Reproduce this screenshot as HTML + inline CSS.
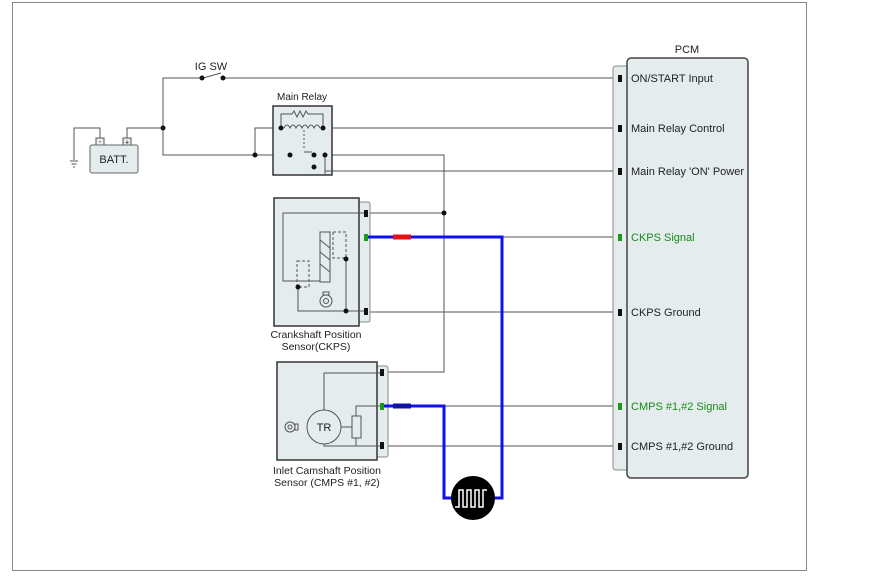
<!DOCTYPE html>
<html><head><meta charset="utf-8"><style>
body{margin:0;background:#fff}
svg{display:block;font-family:"Liberation Sans",sans-serif}
</style></head><body>
<svg width="886" height="582" viewBox="0 0 886 582" xmlns="http://www.w3.org/2000/svg">
<rect x="12.5" y="2.5" width="794" height="568" fill="#fff" stroke="#888" stroke-width="1"/>
<g fill="none" stroke="#555" stroke-width="1">
<!-- IG SW line -->
<polyline points="163,128 163,78 202,78"/>
<line x1="203" y1="78" x2="221" y2="73"/>
<line x1="223" y1="78" x2="613" y2="78"/>
<!-- battery wires -->
<polyline points="100,139 100,128 74,128 74,160"/>
<polyline points="127,139 127,128 163,128 163,155 325,155 444,155 444,372 382,372"/>
<polyline points="255,155 255,128 281,128"/>
<line x1="323" y1="128" x2="613" y2="128"/>
<polyline points="325,155 325,171 613,171"/>
<line x1="367" y1="213" x2="444" y2="213"/>
<line x1="502" y1="237" x2="613" y2="237"/>
<line x1="367" y1="312" x2="613" y2="312"/>
<line x1="444" y1="406" x2="613" y2="406"/>
<line x1="382" y1="446" x2="613" y2="446"/>
</g>
<!-- ground -->
<g stroke="#555"><line x1="70" y1="161" x2="78" y2="161"/><line x1="71.5" y1="164" x2="76.5" y2="164"/><line x1="73" y1="167" x2="75" y2="167"/></g>
<!-- battery -->
<rect x="96" y="138" width="8" height="7" fill="#e8eef0" stroke="#555"/>
<rect x="123" y="138" width="8" height="7" fill="#e8eef0" stroke="#555"/>
<text x="100" y="144" font-size="7" text-anchor="middle">-</text>
<text x="127" y="144.5" font-size="7" text-anchor="middle">+</text>
<rect x="90" y="145" width="48" height="28" rx="2" fill="#e4ecee" stroke="#666"/>
<text x="114" y="163" font-size="11" text-anchor="middle" fill="#222">BATT.</text>
<text x="211" y="70" font-size="11" text-anchor="middle" fill="#222">IG SW</text>
<!-- main relay -->
<text x="302" y="100" font-size="10" text-anchor="middle" fill="#222">Main Relay</text>
<rect x="273" y="106" width="59" height="69" fill="#e4ecee" stroke="#333" stroke-width="1.5"/>
<g fill="none" stroke="#555">
<polyline points="281,128 281,114 292,114 294,111 297,117 300,111 303,117 306,111 308,114 323,114 323,128"/>
<path d="M284,128 q3,-6 6,0 q3,-6 6,0 q3,-6 6,0 q3,-6 6,0 q3,-6 6,0 q3,-6 6,0"/>
<line x1="304" y1="130" x2="304" y2="150" stroke-dasharray="2,2"/>
<line x1="304" y1="152" x2="312" y2="152"/>
<polyline points="325,155 325,175"/>
</g>
<line x1="332" y1="171" x2="325" y2="171" stroke="#555"/>
<!-- CKPS -->
<rect x="359" y="202" width="11" height="120" rx="2" fill="#e4ecee" stroke="#888"/>
<rect x="274" y="198" width="85" height="128" fill="#e4ecee" stroke="#333" stroke-width="1.5"/>
<g fill="none" stroke="#555">
<polyline points="367,213 283,213 283,281 320,281"/>
<rect x="320" y="232" width="10" height="50"/>
<path d="M320,240 L330,248 M320,252 L330,260 M320,264 L330,272"/>
<polyline points="333,232 346,232 346,259" stroke-dasharray="3,2"/>
<polyline points="333,232 333,258 346,258" stroke-dasharray="3,2"/>
<rect x="297" y="261" width="12" height="26" stroke-dasharray="3,2"/>
<polyline points="298,287 298,311 367,311"/>
<line x1="346" y1="259" x2="346" y2="311"/>
<circle cx="326" cy="301" r="6"/><circle cx="326" cy="301" r="2.5"/>
<rect x="323" y="292" width="6" height="3"/>
</g>
<text x="316" y="338" font-size="10.5" text-anchor="middle" fill="#222">Crankshaft Position</text>
<text x="316" y="350" font-size="10.5" text-anchor="middle" fill="#222">Sensor(CKPS)</text>
<!-- CMPS -->
<rect x="377" y="366" width="11" height="91" rx="2" fill="#e4ecee" stroke="#888"/>
<rect x="277" y="362" width="100" height="98" fill="#e4ecee" stroke="#333" stroke-width="1.5"/>
<g fill="none" stroke="#555">
<polyline points="382,373 324,373 324,410"/>
<circle cx="324" cy="427" r="17"/>
<polyline points="324,444 324,446 382,446"/>
<polyline points="382,406 356,406 356,416"/>
<rect x="352" y="416" width="9" height="22"/>
<line x1="356" y1="438" x2="356" y2="446"/>
<line x1="341" y1="427" x2="352" y2="427"/>
<circle cx="290" cy="427" r="5"/><circle cx="290" cy="427" r="2"/>
<rect x="295" y="424" width="3" height="6"/>
</g>
<text x="324" y="431" font-size="11" text-anchor="middle" fill="#222">TR</text>
<text x="327" y="474" font-size="10.5" text-anchor="middle" fill="#222">Inlet Camshaft Position</text>
<text x="327" y="486" font-size="10.5" text-anchor="middle" fill="#222">Sensor (CMPS #1, #2)</text>
<!-- blue wires -->
<g fill="none" stroke="#1010ee" stroke-width="3">
<polyline points="367,237 502,237 502,498 490,498"/>
<polyline points="382,406 444,406 444,498 456,498"/>
</g>
<line x1="393" y1="237" x2="411" y2="237" stroke="#e81010" stroke-width="5"/>
<line x1="393" y1="406" x2="411" y2="406" stroke="#1010aa" stroke-width="5"/>
<circle cx="473" cy="498" r="22" fill="#000"/>
<polyline points="457,507 461,507 461,490 465,490 465,507 469,507 469,490 473,490 473,507 477,507 477,490 481,490 481,507 485,507 485,490 489,490" fill="none" stroke="#fff" stroke-width="1.5" transform="translate(-2,0)"/>
<!-- pins -->
<g fill="#111">
<rect x="364" y="210" width="4" height="7"/><rect x="364" y="308" width="4" height="7"/>
<rect x="380" y="369" width="4" height="7"/><rect x="380" y="442" width="4" height="7"/>
</g>
<g fill="#1a9a1a"><rect x="364" y="234" width="4" height="7"/><rect x="380" y="403" width="4" height="7"/></g>
<!-- dots -->
<g fill="#111">
<circle cx="202" cy="78" r="2.5"/><circle cx="223" cy="78" r="2.5"/>
<circle cx="163" cy="128" r="2.5"/>
<circle cx="255" cy="155" r="2.5"/><circle cx="290" cy="155" r="2.5"/><circle cx="314" cy="155" r="2.5"/><circle cx="325" cy="155" r="2.5"/>
<circle cx="314" cy="167" r="2.5"/>
<circle cx="281" cy="128" r="2.5"/><circle cx="323" cy="128" r="2.5"/>
<circle cx="444" cy="213" r="2.5"/>
<circle cx="298" cy="287" r="2.5"/><circle cx="346" cy="259" r="2.5"/><circle cx="346" cy="311" r="2.5"/>
</g>
<!-- PCM -->
<rect x="613" y="66" width="16" height="404" rx="3" fill="#e4ecee" stroke="#888"/>
<rect x="627" y="58" width="121" height="420" rx="4" fill="#e4ecee" stroke="#444" stroke-width="1.5"/>
<text x="687" y="53" font-size="11" text-anchor="middle" fill="#222">PCM</text>
<g fill="#111">
<rect x="618" y="75" width="4" height="7"/><rect x="618" y="125" width="4" height="7"/><rect x="618" y="168" width="4" height="7"/>
<rect x="618" y="309" width="4" height="7"/><rect x="618" y="443" width="4" height="7"/>
</g>
<g fill="#1a9a1a"><rect x="618" y="234" width="4" height="7"/><rect x="618" y="403" width="4" height="7"/></g>
<g font-size="11" fill="#222">
<text x="631" y="82">ON/START Input</text>
<text x="631" y="132">Main Relay Control</text>
<text x="631" y="175">Main Relay 'ON' Power</text>
<text x="631" y="241" fill="#1a8a1a">CKPS Signal</text>
<text x="631" y="316">CKPS Ground</text>
<text x="631" y="410" fill="#1a8a1a">CMPS #1,#2 Signal</text>
<text x="631" y="450">CMPS #1,#2 Ground</text>
</g>
</svg>
</body></html>
